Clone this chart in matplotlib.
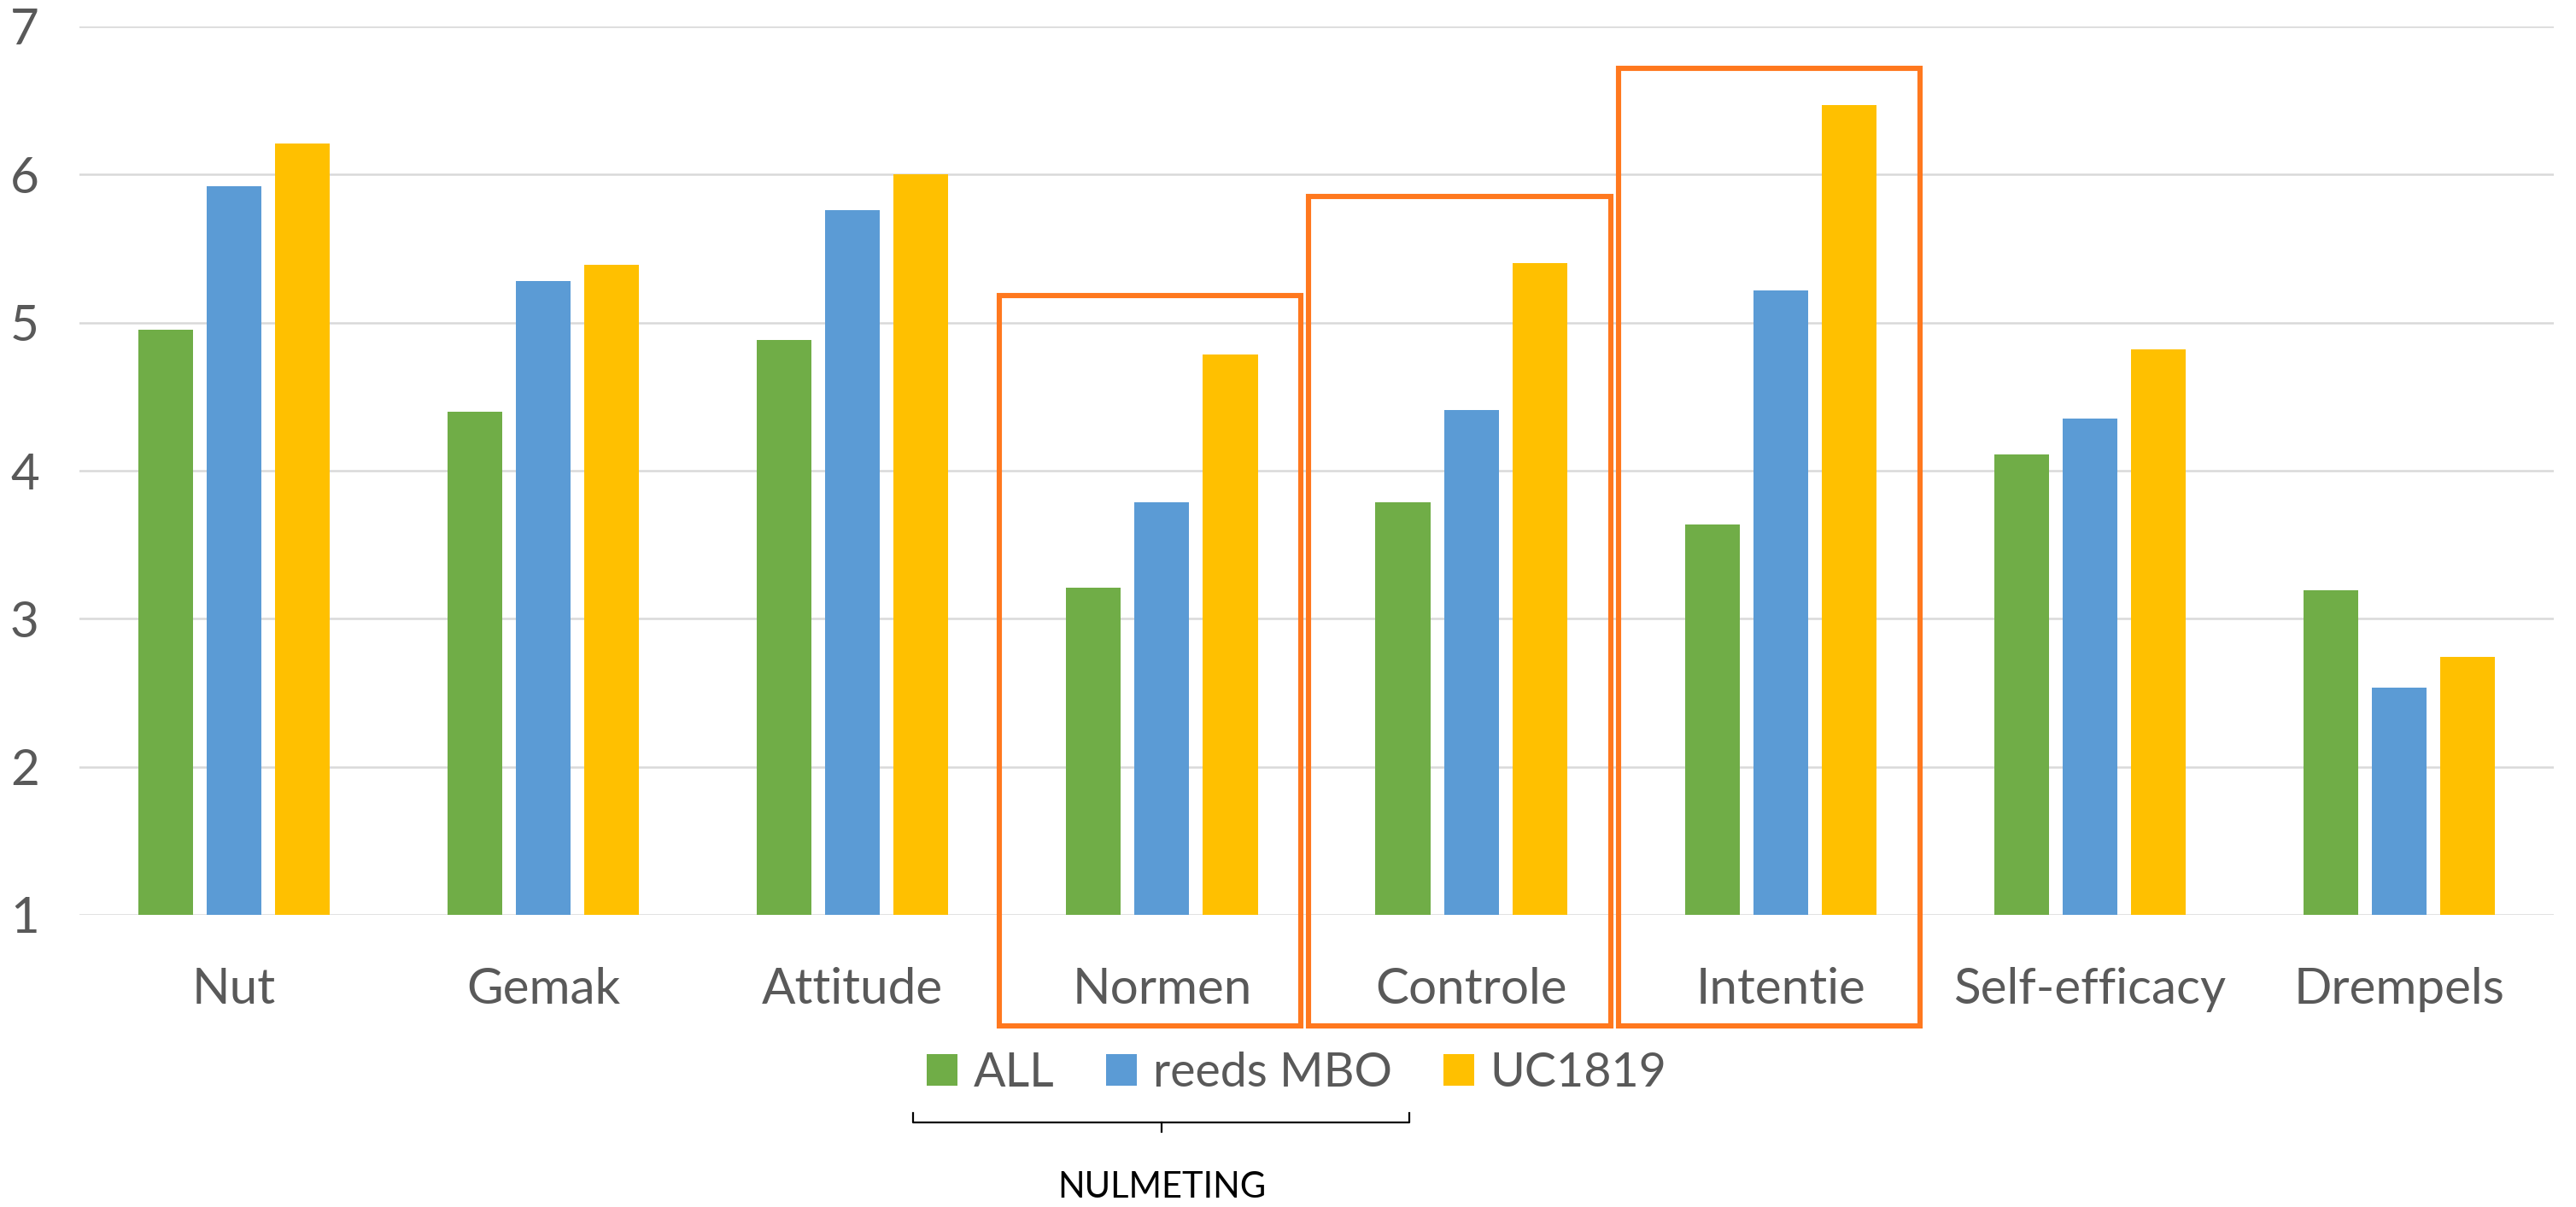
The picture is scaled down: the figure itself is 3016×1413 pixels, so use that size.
import numpy as np
import matplotlib.pyplot as plt
from matplotlib.patches import Rectangle
from matplotlib.lines import Line2D

plt.rcParams['font.family'] = ['Lato', 'DejaVu Sans']

categories = ["Nut", "Gemak", "Attitude", "Normen", "Controle", "Intentie", "Self-efficacy", "Drempels"]
series_names = ["ALL", "reeds MBO", "UC1819"]
all_vals = [4.95, 4.40, 4.88, 3.21, 3.785, 3.635, 4.11, 3.19]
mbo_vals = [5.92, 5.28, 5.76, 3.785, 4.41, 5.22, 4.35, 2.535]
uc_vals = [6.21, 5.39, 6.00, 4.785, 5.40, 6.47, 4.82, 2.74]
yticks = [1, 2, 3, 4, 5, 6, 7]

# highlighted categories and the top of their boxes
box_cats = ["Normen", "Controle", "Intentie"]
box_tops = [5.18, 5.85, 6.72]

colors = ["#70AD47", "#5B9BD5", "#FFC000"]
grey = "#595959"
orange = "#FF781E"

W, H, DPI = 3016, 1413, 200
fig = plt.figure(figsize=(W / DPI, H / DPI), dpi=DPI)
ax = fig.add_axes([93 / W, 1 - 1071 / H, (2990 - 93) / W, (1071 - 31) / H])

x = np.arange(len(categories))
bw = 0.177
step = 0.221
for k, (vals, name) in enumerate(zip([all_vals, mbo_vals, uc_vals], series_names)):
    ax.bar(x + (k - 1) * step, np.array(vals) - 1, bw, bottom=1,
           color=colors[k], label=name, zorder=2)

ax.set_xlim(-0.5, len(categories) - 0.5)
ax.set_ylim(1, 7)
ax.set_yticks(yticks)
ax.set_xticks(x)
ax.set_xticklabels(categories)
ax.tick_params(axis='both', length=0, labelsize=21, labelcolor=grey)
ax.tick_params(axis='y', pad=17)
ax.tick_params(axis='x', pad=22)
ax.yaxis.grid(True, color="#D9D9D9", lw=0.9)
ax.set_axisbelow(True)
for s in ax.spines.values():
    s.set_visible(False)

for cat, top in zip(box_cats, box_tops):
    i = categories.index(cat)
    r = Rectangle((i - 0.525, 0.25), 0.975, top - 0.25, fill=False,
                  edgecolor=orange, lw=2.2, clip_on=False, zorder=5)
    ax.add_patch(r)

leg = ax.legend(loc='center', bbox_to_anchor=(0.492, -0.178), ncol=3, frameon=False,
                fontsize=20, handlelength=0.65, handleheight=0.65,
                handletextpad=0.34, columnspacing=1.08)
for t in leg.get_texts():
    t.set_color(grey)

# bracket under the first two legend entries
def fx(px):
    return px / W

def fy(py):
    return 1 - py / H

bx = [1069, 1069, 1650, 1650]
by = [1303, 1314, 1314, 1303]
fig.add_artist(Line2D([fx(v) for v in bx], [fy(v) for v in by], color="black", lw=0.8))
fig.add_artist(Line2D([fx(1360), fx(1360)], [fy(1314), fy(1325)], color="black", lw=0.8))
fig.text(fx(1360), fy(1390), "NULMETING", ha='center', va='center', fontsize=15, color="black")

fig.savefig("out.png", dpi=DPI)
